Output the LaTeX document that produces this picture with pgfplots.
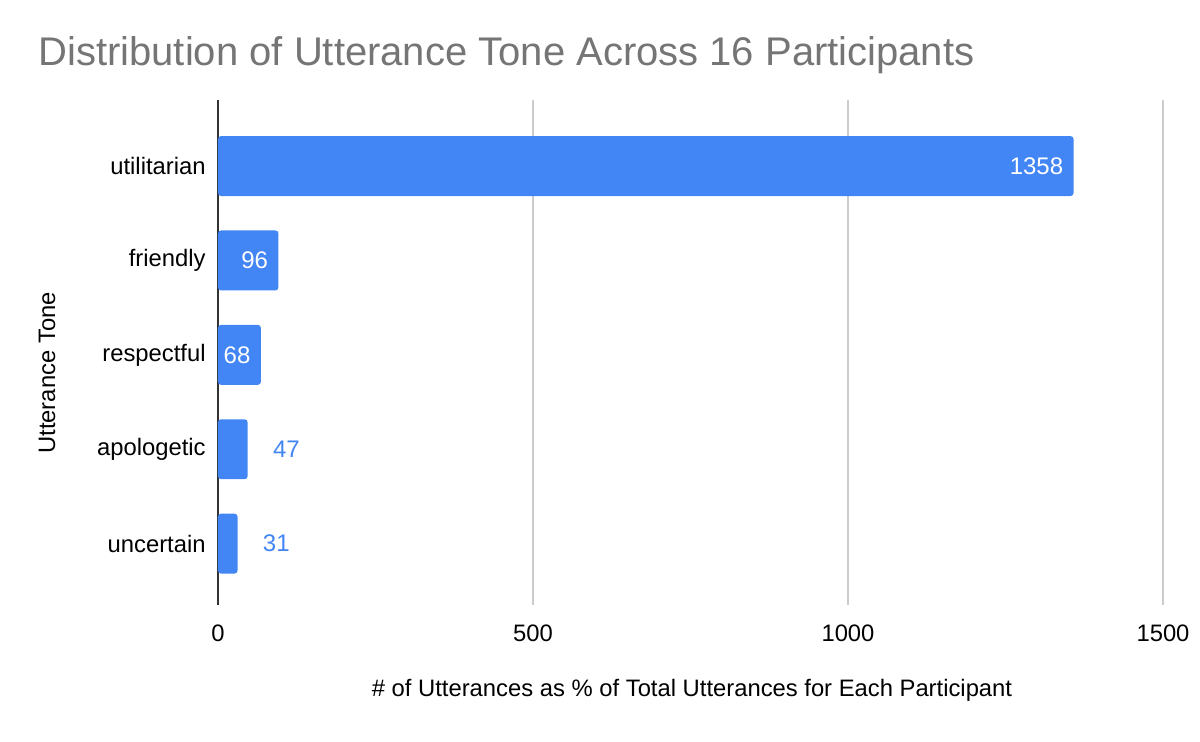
\documentclass[border=0pt]{standalone}
\usepackage{pgfplots}
\pgfplotsset{compat=1.18}
\usepackage{pgfplotstable}
\usepackage{fontspec}
\setmainfont{Liberation Sans}
\definecolor{barblue}{HTML}{4285F4}
\definecolor{titlegray}{HTML}{757575}
\definecolor{gridgray}{HTML}{CCCCCC}
\definecolor{axisdark}{HTML}{333333}

% utterance tone counts, row index = category position (top to bottom)
\pgfplotstableread{
idx value
0 1358
1 96
2 68
3 47
4 31
}\tonedata

\begin{document}
\begin{tikzpicture}
\useasboundingbox (0,0) rectangle (600pt,371pt);
\begin{axis}[
  at={(109pt,68.5pt)}, anchor=south west,
  scale only axis, width=472.5pt, height=252.5pt,
  xbar, bar width=0.635, bar shift=0pt,
  xmin=0, xmax=1500, ymin=-0.7, ymax=4.65, y dir=reverse,
  xtick={0,500,1000,1500}, ytick={0,1,2,3,4},
  yticklabels={utilitarian,friendly,respectful,apologetic,uncertain},
  axis x line*=bottom, axis y line*=left,
  x axis line style={draw=none},
  y axis line style={draw=axisdark, line width=1pt},
  xmajorgrids, grid style={draw=gridgray, line width=0.6pt},
  major tick length=0pt,
  tick style={draw=none},
  /pgf/number format/assume math mode=true,
  /pgf/number format/1000 sep={},
  tick label style={font=\fontsize{11.9}{14}\selectfont, text=black},
  xticklabel style={anchor=center, yshift=-14pt},
  yticklabel style={anchor=east, inner sep=0pt, xshift=-6pt},
  clip=false,
]
\addplot[fill=barblue, draw=none, rounded corners=1.5pt]
  table[x=value, y=idx] {\tonedata};
% labels inside the long bars
\addplot[draw=none, fill=none, restrict y to domain=0:2,
  nodes near coords,
  every node near coord/.append style={anchor=east, inner sep=0pt,
    xshift=-5pt, text=white, font=\fontsize{12}{14}\selectfont}]
  table[x=value, y=idx] {\tonedata};
% labels beside the short bars
\addplot[draw=none, fill=none, restrict y to domain=3:4,
  nodes near coords,
  every node near coord/.append style={anchor=west, inner sep=0pt,
    xshift=12.5pt, text=barblue, font=\fontsize{12}{14}\selectfont}]
  table[x=value, y=idx] {\tonedata};
\end{axis}
\node[anchor=west, inner sep=0pt, text=titlegray,
  font=\fontsize{20}{24}\selectfont] at (19pt,343.5pt)
  {Distribution of Utterance Tone Across 16 Participants};
\node[inner sep=0pt, font=\fontsize{11.9}{14}\selectfont] at (346pt,26pt)
  {\# of Utterances as \% of Total Utterances for Each Participant};
\node[inner sep=0pt, rotate=90, font=\fontsize{11.9}{14}\selectfont] at (23.5pt,184.5pt)
  {Utterance Tone};
\end{tikzpicture}
\end{document}
